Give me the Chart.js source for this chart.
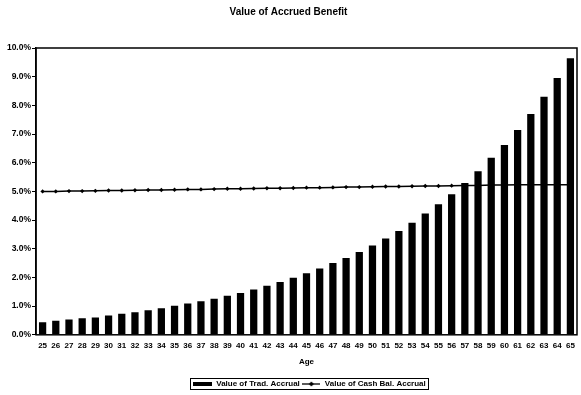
<!DOCTYPE html>
<html>
<head>
<meta charset="utf-8">
<script src="https://cdn.jsdelivr.net/npm/chart.js@4/dist/chart.umd.min.js"></script>
<style>
  html, body { margin: 0; padding: 0; background: #fff; }
  #wrap { width: 581px; height: 395px; }
</style>
</head>
<body>
<div id="wrap"><canvas id="c" width="581" height="395"></canvas></div>
<script>
// Ages along the horizontal axis
const ages = [25,26,27,28,29,30,31,32,33,34,35,36,37,38,39,40,41,42,43,44,45,
              46,47,48,49,50,51,52,53,54,55,56,57,58,59,60,61,62,63,64,65];

// Value of the traditional plan accrual, percent of pay
const tradAccrual = [0.44,0.49,0.53,0.58,0.60,0.67,0.73,0.79,0.86,0.93,1.01,
                     1.09,1.17,1.26,1.36,1.46,1.58,1.71,1.84,1.99,2.15,
                     2.31,2.50,2.68,2.89,3.11,3.36,3.62,3.91,4.23,4.55,
                     4.90,5.29,5.70,6.17,6.62,7.14,7.70,8.30,8.95,9.64];

// Value of the cash balance accrual, percent of pay
const cashBalAccrual = [5.00,5.00,5.01,5.01,5.02,5.03,5.03,5.04,5.05,5.05,5.06,
                        5.07,5.07,5.08,5.09,5.09,5.10,5.11,5.11,5.12,5.13,
                        5.13,5.14,5.15,5.15,5.16,5.17,5.17,5.18,5.19,5.19,
                        5.20,5.21,5.21,5.22,5.22,5.23,5.23,5.23,5.23,5.23];

const yTicks = [0,1,2,3,4,5,6,7,8,9,10];

const FONT = 'Arial, "Liberation Sans", sans-serif';

// Legend icons: a filled bar swatch and a line with a marker
function barIcon() {
  const cv = document.createElement('canvas');
  cv.width = 19; cv.height = 4;
  const g = cv.getContext('2d');
  g.fillStyle = '#000';
  g.fillRect(0, 0, 19, 4);
  return cv;
}
function lineIcon() {
  const cv = document.createElement('canvas');
  cv.width = 18; cv.height = 6;
  const g = cv.getContext('2d');
  g.strokeStyle = '#000';
  g.lineWidth = 1.3;
  g.beginPath(); g.moveTo(0, 3); g.lineTo(18, 3); g.stroke();
  g.fillStyle = '#000';
  g.beginPath(); g.moveTo(9, 0.5); g.lineTo(11.5, 3); g.lineTo(9, 5.5); g.lineTo(6.5, 3); g.closePath(); g.fill();
  return cv;
}
const icons = [barIcon(), lineIcon()];

// Legend sits a little right of the canvas centre and close to the bottom edge
const legendShift = {
  id: 'legendShift',
  afterLayout(chart) {
    const lg = chart.legend;
    lg.left += 21;
    lg.right += 21;
    lg.top += 3;
    lg.bottom += 3;
  }
};

// Frame around the plot area and around the legend
const frames = {
  id: 'frames',
  afterDraw(chart) {
    const ctx = chart.ctx;
    const a = chart.chartArea;
    ctx.save();
    ctx.strokeStyle = '#000';
    ctx.lineWidth = 1.5;
    ctx.strokeRect(a.left, a.top, a.right - a.left, a.bottom - a.top);
    const hb = chart.legend.legendHitBoxes;
    if (hb && hb.length) {
      let l = Infinity, r = -Infinity, t = Infinity, b = -Infinity;
      hb.forEach(h => {
        l = Math.min(l, h.left); r = Math.max(r, h.left + h.width);
        t = Math.min(t, h.top); b = Math.max(b, h.top + h.height);
      });
      const cy = (t + b) / 2;
      ctx.lineWidth = 1;
      ctx.strokeRect(Math.round(l - 3) + 0.5, Math.round(cy - 6) + 0.5,
                     Math.round(r - l + 5), 11);
    }
    ctx.restore();
  }
};

new Chart(document.getElementById('c'), {
  data: {
    labels: ages,
    datasets: [
      {
        type: 'bar',
        label: 'Value of Trad. Accrual',
        data: tradAccrual,
        backgroundColor: '#000',
        borderWidth: 0,
        barPercentage: 0.55,
        categoryPercentage: 1.0,
        order: 1
      },
      {
        type: 'line',
        label: 'Value of Cash Bal. Accrual',
        data: cashBalAccrual,
        borderColor: '#000',
        backgroundColor: '#000',
        borderWidth: 1.5,
        pointStyle: 'rectRot',
        pointRadius: 2.2,
        pointBorderWidth: 0,
        tension: 0,
        order: 0
      }
    ]
  },
  options: {
    responsive: false,
    animation: false,
    devicePixelRatio: 1,
    layout: { padding: { left: 0, right: 4, top: 0, bottom: 0 } },
    plugins: {
      tooltip: { enabled: false },
      title: {
        display: true,
        text: 'Value of Accrued Benefit',
        color: '#000',
        font: { family: FONT, size: 10, weight: 'bold' },
        padding: { top: 6, bottom: 30 }
      },
      legend: {
        position: 'bottom',
        labels: {
          color: '#000',
          font: { family: FONT, size: 8, weight: 'bold' },
          usePointStyle: true,
          pointStyleWidth: 19,
          boxHeight: 6,
          padding: 2,
          generateLabels(chart) {
            return chart.data.datasets.map((ds, i) => ({
              text: ds.label,
              pointStyle: icons[i],
              fillStyle: '#000',
              strokeStyle: '#000',
              lineWidth: 0,
              fontColor: '#000',
              hidden: false,
              datasetIndex: i
            }));
          }
        }
      }
    },
    scales: {
      x: {
        offset: true,
        grid: { display: false, drawTicks: false },
        border: { display: false },
        ticks: {
          color: '#000',
          font: { family: FONT, size: 8, weight: 'bold' },
          autoSkip: false,
          maxRotation: 0,
          padding: 6
        },
        title: {
          display: true,
          text: 'Age',
          color: '#000',
          font: { family: FONT, size: 8, weight: 'bold' },
          padding: { top: 1, bottom: 8 }
        }
      },
      y: {
        min: 0,
        max: 10,
        afterFit(scale) { scale.width = 36; },
        afterBuildTicks(scale) { scale.ticks = yTicks.map(v => ({ value: v })); },
        grid: { drawOnChartArea: false, drawTicks: true, tickLength: 4, color: '#000', lineWidth: 1 },
        border: { display: true, color: '#000', width: 1.5 },
        ticks: {
          color: '#000',
          font: { family: FONT, size: 8.5, weight: 'bold' },
          padding: 1,
          callback: v => v.toFixed(1) + '%'
        }
      }
    }
  },
  plugins: [legendShift, frames]
});
</script>
</body>
</html>
